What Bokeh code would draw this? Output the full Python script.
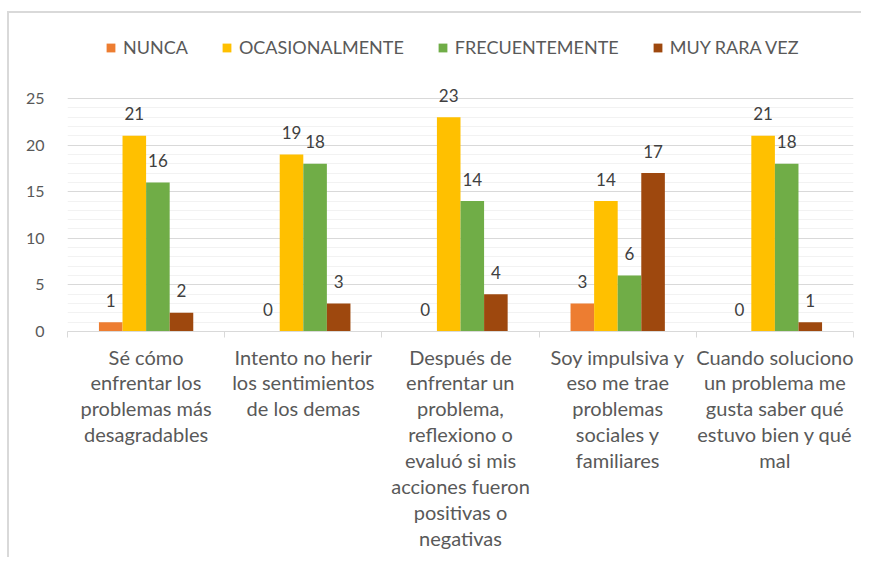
from bokeh.plotting import figure
from bokeh.models import (ColumnDataSource, Range1d, LinearAxis, FixedTicker, Legend, LegendItem)
from bokeh.transform import dodge
from bokeh.core.properties import value
from bokeh.embed import file_html
from bokeh.resources import INLINE

# ---------------- data ----------------
cat_labels = [
    "Sé cómo\nenfrentar los\nproblemas más\ndesagradables",
    "Intento no herir\nlos sentimientos\nde los demas",
    "Después de\nenfrentar un\nproblema,\nreflexiono o\nevaluó si mis\nacciones fueron\npositivas o\nnegativas",
    "Soy impulsiva y\neso me trae\nproblemas\nsociales y\nfamiliares",
    "Cuando soluciono\nun problema me\ngusta saber qué\nestuvo bien y qué\nmal",
]
series_names = ["NUNCA", "OCASIONALMENTE", "FRECUENTEMENTE", "MUY RARA VEZ"]
nunca = [1, 0, 0, 3, 0]
ocasionalmente = [21, 19, 23, 14, 21]
frecuentemente = [16, 18, 14, 6, 18]
muy_rara_vez = [2, 3, 4, 17, 1]
y_ticks = [0, 5, 10, 15, 20, 25]
y_minor = list(range(0, 26))

series_values = [nunca, ocasionalmente, frecuentemente, muy_rara_vez]
colors = ["#ED7D31", "#FFC000", "#70AD47", "#9E480E"]
offsets = [-0.225, -0.075, 0.075, 0.225]
FONT = "Lato"

n = len(cat_labels)
cat_pos = [i + 0.5 for i in range(n)]
boundaries = list(range(n + 1))

# layout (pixels)
W, H = 861, 557
B_LEFT, B_RIGHT, B_BOTTOM = 67, 8, 226
frame_h = H - B_BOTTOM
y_end = 25 * frame_h / 233.0   # frame extends to the top so the legend fits inside

chart_border = {
    "background-color": "white",
    "background-image": "linear-gradient(#D9D9D9, #D9D9D9), linear-gradient(#D9D9D9, #D9D9D9)",
    "background-size": "2px 100%, 100% 2px",
    "background-position": "7px 11px, 7px 11px",
    "background-repeat": "no-repeat",
}

p = figure(width=W, height=H, x_range=Range1d(0, n), y_range=Range1d(0, y_end),
           output_backend="svg", toolbar_location=None, x_axis_location=None,
           min_border_left=B_LEFT, min_border_right=B_RIGHT, min_border_top=0,
           min_border_bottom=B_BOTTOM,
           background_fill_color=None, border_fill_color=None, styles=chart_border)
p.outline_line_color = None

# grid
p.xgrid.visible = False
yt = FixedTicker(ticks=y_ticks, minor_ticks=y_minor)
p.yaxis.ticker = yt
p.ygrid.ticker = yt
p.ygrid.grid_line_color = "#D9D9D9"
p.ygrid.minor_grid_line_color = "#F2F2F2"
p.yaxis.axis_line_color = None
p.yaxis.major_tick_line_color = None
p.yaxis.minor_tick_line_color = None
p.yaxis.major_tick_out = 0
p.yaxis.minor_tick_out = 0
p.yaxis.major_label_text_font = FONT
p.yaxis.major_label_text_font_size = "16px"
p.yaxis.major_label_text_color = "#595959"
p.yaxis.major_label_standoff = 23

# x axis: labels at category centres, ticks at category boundaries
xaxis = LinearAxis(ticker=FixedTicker(ticks=cat_pos, minor_ticks=boundaries),
                   axis_line_color="#D9D9D9", major_tick_line_color=None,
                   major_tick_in=0, major_tick_out=0,
                   minor_tick_line_color="#D9D9D9", minor_tick_in=0, minor_tick_out=6,
                   major_label_overrides=dict(zip(cat_pos, cat_labels)),
                   major_label_text_font=FONT, major_label_text_font_size="20px",
                   major_label_text_color="#595959", major_label_standoff=7,
                   major_label_text_line_height=1.083)
p.add_layout(xaxis, "below")

items = []
for name, vals, col, off in zip(series_names, series_values, colors, offsets):
    src = ColumnDataSource(dict(pos=cat_pos, val=vals, lbl=[str(v) for v in vals]))
    r = p.vbar(x=dodge("pos", off), top="val", width=0.15, source=src,
               fill_color=col, line_color=None)
    p.text(x=dodge("pos", off), y="val", text="lbl", source=src,
           text_align="center", text_baseline="alphabetic", y_offset=-22,
           text_font=value(FONT), text_font_size="17px", text_color="#404040")
    items.append(LegendItem(label=name, renderers=[r]))

legend = Legend(items=items, orientation="horizontal", location=(38, frame_h - 58),
                border_line_color=None, background_fill_alpha=0, padding=0, margin=0,
                glyph_width=11, glyph_height=11, label_standoff=7, spacing=33,
                label_text_font=FONT, label_text_font_size="18px", label_text_color="#595959")
p.add_layout(legend, "center")

open("out.html", "w").write(file_html(p, INLINE))
